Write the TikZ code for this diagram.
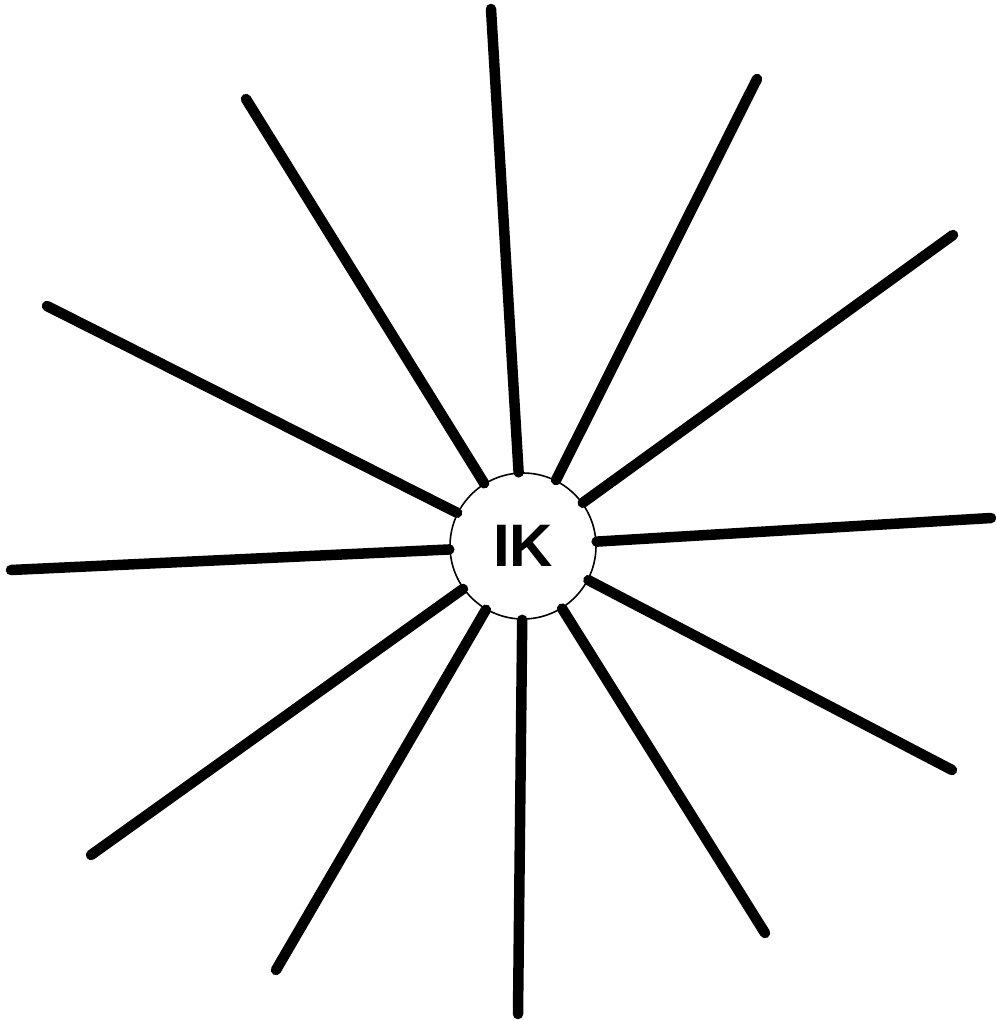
\documentclass[tikz,border=0pt]{standalone}
\usepackage{fontspec}
\setmainfont{Liberation Sans}
\begin{document}
\begin{tikzpicture}[x=1pt,y=-1pt,
  spoke/.style={line width=10.5pt,line cap=round},
  hub/.style={circle,draw,line width=1.6pt,minimum size=146pt,inner sep=0pt,font=\fontsize{60}{64}\selectfont\bfseries}]
\useasboundingbox (0,0) rectangle (996,1021);
\node[hub] (c) at (523,546) {IK};
\coordinate (e1) at (491,9);
\coordinate (e2) at (757,79);
\coordinate (e3) at (953,235);
\coordinate (e4) at (991,518);
\coordinate (e5) at (952,770);
\coordinate (e6) at (765,933);
\coordinate (e7) at (518,1014);
\coordinate (e8) at (276,970);
\coordinate (e9) at (91,855);
\coordinate (e10) at (11,570);
\coordinate (e11) at (47,306);
\coordinate (e12) at (246,99);
\foreach \i in {1,...,12}{\draw[spoke] (c) -- (e\i);}
\end{tikzpicture}
\end{document}
